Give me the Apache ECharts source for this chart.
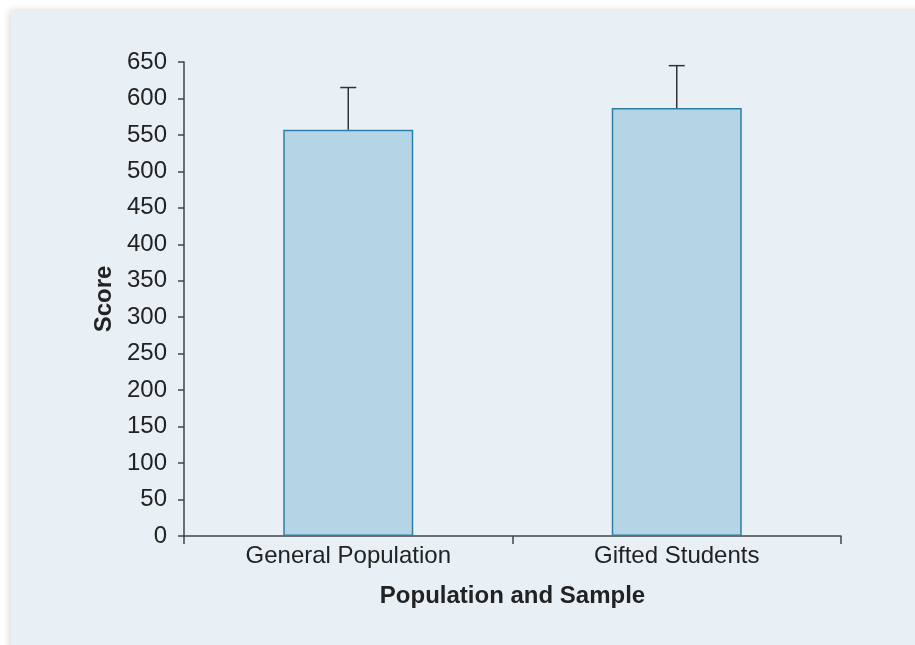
<!DOCTYPE html>
<html><head><meta charset="utf-8">
<script src="https://cdn.jsdelivr.net/npm/echarts@6/dist/echarts.min.js"></script>
<style>html,body{margin:0;padding:0;background:#fff;}#c{width:915px;height:645px;}</style>
</head><body><div id="c"></div>
<script>
const categories = ['General Population', 'Gifted Students'];
const means = [557, 587];
const errorTops = [615, 645];
const yTicks = [0, 650, 50];

const chart = echarts.init(document.getElementById('c'));
const font = '"Liberation Sans", Arial, Helvetica, sans-serif';
chart.setOption({
  animation: false,
  backgroundColor: '#ffffff',
  graphic: [{
    type: 'rect', z: -10, silent: true,
    shape: { x: 11, y: 11, width: 920, height: 650 },
    style: { fill: '#e8f0f6', shadowBlur: 8, shadowColor: 'rgba(0,0,0,0.18)', shadowOffsetX: -1, shadowOffsetY: 0 }
  }],
  grid: { left: 184, right: 74, top: 62, bottom: 109 },
  xAxis: {
    type: 'category', data: categories,
    axisLine: { lineStyle: { color: '#444', width: 1.5 } },
    axisTick: { show: true, length: 8, alignWithLabel: false, lineStyle: { color: '#444', width: 1.5 } },
    axisLabel: { color: '#222', fontSize: 24, fontFamily: font, margin: 8 },
    name: 'Population and Sample', nameLocation: 'middle', nameGap: 48,
    nameTextStyle: { color: '#222', fontSize: 24, fontWeight: 'bold', fontFamily: font }
  },
  yAxis: {
    type: 'value', min: yTicks[0], max: yTicks[1], interval: yTicks[2],
    axisLine: { show: true, lineStyle: { color: '#444', width: 1.5 } },
    axisTick: { show: true, length: 6, lineStyle: { color: '#444', width: 1.5 } },
    splitLine: { show: false },
    axisLabel: { color: '#222', fontSize: 24, fontFamily: font, margin: 17 },
    name: 'Score', nameLocation: 'middle', nameGap: 68, nameRotate: 90,
    nameTextStyle: { color: '#222', fontSize: 24, fontWeight: 'bold', fontFamily: font }
  },
  series: [{
    type: 'bar', data: means, barWidth: 130,
    itemStyle: { color: '#b5d5e6', borderColor: '#2d7fa8', borderWidth: 1.5 }
  }, {
    type: 'custom',
    data: categories.map((c, i) => [i, means[i], errorTops[i]]),
    z: 1,
    renderItem: function (params, api) {
      const lo = api.coord([api.value(0), api.value(1)]);
      const hi = api.coord([api.value(0), api.value(2)]);
      const hw = 8;
      return {
        type: 'group',
        children: [
          { type: 'line', shape: { x1: lo[0], y1: lo[1], x2: hi[0], y2: hi[1] }, style: { stroke: '#333', lineWidth: 1.5 } },
          { type: 'line', shape: { x1: hi[0] - hw, y1: hi[1], x2: hi[0] + hw, y2: hi[1] }, style: { stroke: '#333', lineWidth: 1.5 } }
        ]
      };
    }
  }]
});
</script></body></html>
